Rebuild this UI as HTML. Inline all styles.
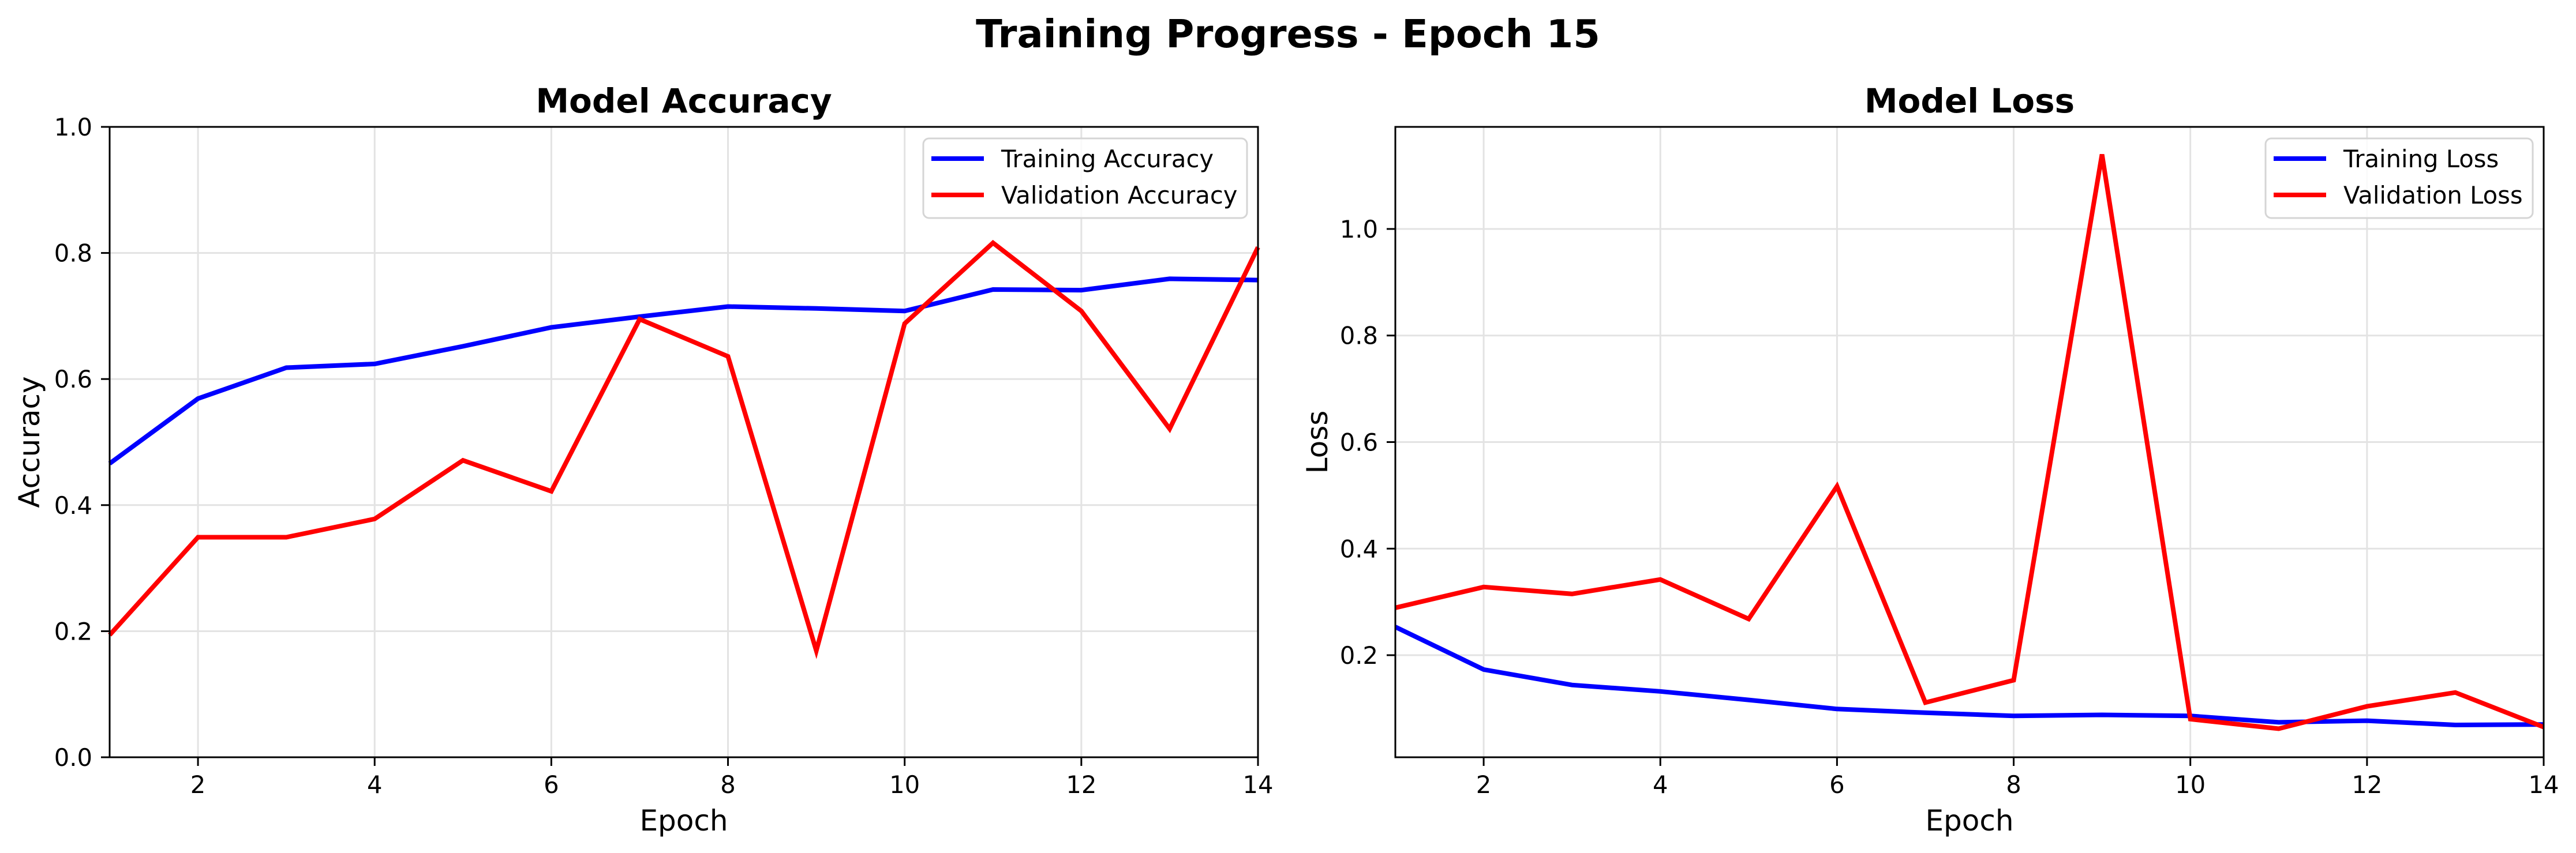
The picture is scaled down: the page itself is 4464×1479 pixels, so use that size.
<!DOCTYPE html>
<html><head><meta charset="utf-8"><style>
html,body{margin:0;padding:0;background:#fff;}
svg{display:block;font-family:"DejaVu Sans","Liberation Sans",sans-serif;}
</style></head><body>
<svg id="fig" width="4464" height="1479" viewBox="0 0 4464 1479" xmlns="http://www.w3.org/2000/svg">
<rect width="4464" height="1479" fill="#fff"/>
<text x="2232" y="82" text-anchor="middle" font-size="67" font-weight="bold">Training Progress - Epoch 15</text>
</svg>
<script>
const epochs=[1,2,3,4,5,6,7,8,9,10,11,12,13,14];
const trainAcc=[0.466,0.569,0.618,0.624,0.652,0.682,0.699,0.715,0.712,0.708,0.742,0.741,0.759,0.757];
const valAcc=[0.194,0.349,0.349,0.378,0.471,0.422,0.695,0.636,0.169,0.688,0.816,0.708,0.521,0.809];
const trainLoss=[0.253,0.173,0.144,0.132,0.116,0.099,0.092,0.086,0.088,0.086,0.074,0.077,0.069,0.070];
const valLoss=[0.289,0.328,0.315,0.342,0.268,0.517,0.111,0.153,1.140,0.080,0.062,0.104,0.130,0.065];
const xTicks=[2,4,6,8,10,12,14];
const accTicks=[0.0,0.2,0.4,0.6,0.8,1.0];
const lossTicks=[0.2,0.4,0.6,0.8,1.0];

const NS='http://www.w3.org/2000/svg';
const svg=document.getElementById('fig');
function mk(tag,attrs,parent){const e=document.createElementNS(NS,tag);for(const k in attrs)e.setAttribute(k,attrs[k]);(parent||svg).appendChild(e);return e;}

function drawPanel(o){
  const g=mk('g',{});
  
  
  const L=o.left,R=o.left+1990,T=220,B=1313;
  const xs=v=>L+(v-1)/(13)*(R-L);
  const ys=v=>B-(v-o.ymin)/(o.ymax-o.ymin)*(B-T);
  xTicks.forEach(t=>{const l=mk('line',{x1:xs(t),x2:xs(t),y1:T,y2:B,stroke:'#e3e3e3','stroke-width':3},g);
    });
  o.yTicks.forEach(t=>{const l=mk('line',{x1:L,x2:R,y1:ys(t),y2:ys(t),stroke:'#e3e3e3','stroke-width':3},g);
    });
  [[o.train,'#0000ff','training-line'],[o.val,'#ff0000','validation-line']].forEach(([arr,c,n])=>{
    const pts=arr.map((v,i)=>xs(epochs[i]).toFixed(1)+','+ys(v).toFixed(1)).join(' ');
    const p=mk('polyline',{points:pts,fill:'none',stroke:c,'stroke-width':8,'stroke-linejoin':'miter'},g);
    
  });
  const sp=mk('rect',{x:L,y:T,width:R-L,height:B-T,fill:'none',stroke:'#000','stroke-width':3},g);
  
  xTicks.forEach(t=>{mk('line',{x1:xs(t),x2:xs(t),y1:B,y2:B+15,stroke:'#000','stroke-width':3},g);
    const tx=mk('text',{x:xs(t),y:1375,'text-anchor':'middle','font-size':41.7},g);tx.textContent=t;
    });
  o.yTicks.forEach(t=>{mk('line',{x1:L-15,x2:L,y1:ys(t),y2:ys(t),stroke:'#000','stroke-width':3},g);
    const tx=mk('text',{x:L-30,y:ys(t)+15,'text-anchor':'end','font-size':41.7},g);tx.textContent=t.toFixed(1);
    });
  const xl=mk('text',{x:(L+R)/2,y:1440,'text-anchor':'middle','font-size':50},g);xl.textContent='Epoch';
  
  const yl=mk('text',{x:0,y:0,'text-anchor':'middle','font-size':50,transform:`translate(${o.ylx},${(T+B)/2}) rotate(-90)`},g);yl.textContent=o.ylabel;
  
  const tt=mk('text',{x:(L+R)/2,y:195,'text-anchor':'middle','font-size':58,'font-weight':'bold'},g);tt.textContent=o.title;
  
  const lg=mk('g',{},g);
  
  mk('rect',{x:o.legX,y:240,width:R-19-o.legX,height:138,rx:10,fill:'#fff','fill-opacity':0.8,stroke:'#d5d5d5','stroke-width':3},lg);
  [[o.names[0],'#0000ff',275,290],[o.names[1],'#ff0000',338,353]].forEach(([nm,c,ly,ty])=>{
    const e=mk('g',{},lg);
    
    mk('line',{x1:o.legX+14,x2:o.legX+105,y1:ly,y2:ly,stroke:c,'stroke-width':8},e);
    const t=mk('text',{x:o.legX+135,y:ty,'font-size':41.7},e);t.textContent=nm;
  });
}
drawPanel({name:'accuracy-panel',left:190,ymin:0,ymax:1.0,yTicks:accTicks,train:trainAcc,val:valAcc,
  ylabel:'Accuracy',ylx:68,title:'Model Accuracy',legX:1600,names:['Training Accuracy','Validation Accuracy']});
drawPanel({name:'loss-panel',left:2418,ymin:0.0084,ymax:1.1916,yTicks:lossTicks,train:trainLoss,val:valLoss,
  ylabel:'Loss',ylx:2300,title:'Model Loss',legX:3926,names:['Training Loss','Validation Loss']});
</script>
</body></html>
